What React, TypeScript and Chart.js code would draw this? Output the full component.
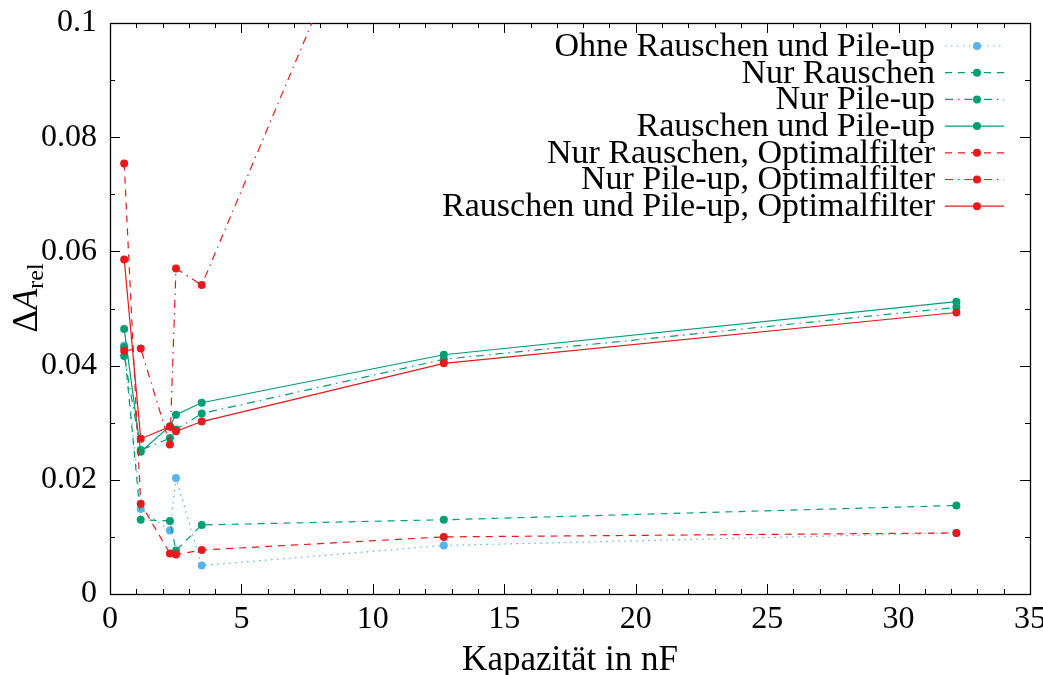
import React, { useEffect, useRef } from 'react';
import { Chart, registerables } from 'chart.js';

Chart.register(...registerables);

// ---- data ----
const capacitance = [0.54, 1.17, 2.28, 2.51, 3.49, 12.7, 32.2];
const ohneRauschenPileup = [0.0435, 0.0149, 0.0111, 0.0203, 0.0050, 0.0085, 0.0107];
const nurRauschen = [0.0432, 0.0130, 0.0128, 0.0076, 0.0121, 0.0130, 0.0155];
const nurPileup = [0.0417, 0.0252, 0.0273, 0.0288, 0.0316, 0.0411, 0.0502];
const rauschenPileup = [0.0464, 0.0249, 0.0294, 0.0314, 0.0335, 0.0419, 0.0512];
const nurRauschenOF = [0.0754, 0.0158, 0.0071, 0.0069, 0.0077, 0.0100, 0.0107];
const nurPileupOF = [0.0426, 0.0430, 0.0262, 0.0570, 0.0541, 0.155, null];
const rauschenPileupOF = [0.0586, 0.0272, 0.0293, 0.0285, 0.0302, 0.0404, 0.0493];

const seriesLabels = [
  'Ohne Rauschen und Pile-up',
  'Nur Rauschen',
  'Nur Pile-up',
  'Rauschen und Pile-up',
  'Nur Rauschen, Optimalfilter',
  'Nur Pile-up, Optimalfilter',
  'Rauschen und Pile-up, Optimalfilter',
];
const seriesValues = [
  ohneRauschenPileup,
  nurRauschen,
  nurPileup,
  rauschenPileup,
  nurRauschenOF,
  nurPileupOF,
  rauschenPileupOF,
];

const xMin = 0;
const xMax = 35;
const xStep = 5;
const yMin = 0;
const yMax = 0.1;
const yStep = 0.02;
const xTitle = 'Kapazität in nF';

// ---- styles ----
const BLUE = '#56b4e9';
const GREEN = '#009e73';
const RED = '#e41a1c';
const DOTTED = [1.5, 4.5];
const DASHED = [7, 6];
const DASHDOT = [8, 5, 1.5, 5];
const SOLID: number[] = [];
const seriesStyles = [
  { color: BLUE, dash: DOTTED },
  { color: GREEN, dash: DASHED },
  { color: GREEN, dash: DASHDOT },
  { color: GREEN, dash: SOLID },
  { color: RED, dash: DASHED },
  { color: RED, dash: DASHDOT },
  { color: RED, dash: SOLID },
];

const FONT = '"Liberation Serif", serif';
const FS = 32;
const FS_LEGEND = 34;
const FS_TITLE = 35;

const framePlugin = {
  id: 'gnuFrame',
  beforeDatasetsDraw(chart: any) {
    const { ctx, chartArea: a } = chart;
    const x = chart.scales.x;
    const y = chart.scales.y;
    ctx.save();
    ctx.strokeStyle = '#000';
    ctx.lineWidth = 1;
    ctx.beginPath();
    const nx = Math.round((xMax - xMin) / 1);
    for (let i = 0; i <= nx; i++) {
      const v = xMin + i;
      const px = Math.round(x.getPixelForValue(v)) + 0.5;
      const len = i % 5 === 0 ? 10 : 5;
      ctx.moveTo(px, a.bottom);
      ctx.lineTo(px, a.bottom - len);
      ctx.moveTo(px, a.top);
      ctx.lineTo(px, a.top + len);
    }
    const ny = Math.round((yMax - yMin) / 0.01);
    for (let i = 0; i <= ny; i++) {
      const v = yMin + i * 0.01;
      const py = Math.round(y.getPixelForValue(v)) + 0.5;
      const len = i % 2 === 0 ? 10 : 5;
      ctx.moveTo(a.left, py);
      ctx.lineTo(a.left + len, py);
      ctx.moveTo(a.right, py);
      ctx.lineTo(a.right - len, py);
    }
    ctx.stroke();
    ctx.lineWidth = 1.3;
    ctx.strokeRect(Math.round(a.left) + 0.5, Math.round(a.top) + 0.5, Math.round(a.width), Math.round(a.height));
    ctx.restore();
  },
  afterDraw(chart: any) {
    const { ctx, chartArea: a } = chart;
    ctx.save();
    ctx.fillStyle = '#000';
    // x title
    ctx.font = `${FS_TITLE}px ${FONT}`;
    ctx.textAlign = 'center';
    ctx.textBaseline = 'middle';
    ctx.fillText(xTitle, (a.left + a.right) / 2, 661);
    // y title: ΔA_rel rotated
    ctx.translate(37, 298);
    ctx.rotate(-Math.PI / 2);
    ctx.textAlign = 'left';
    ctx.textBaseline = 'alphabetic';
    const fMain = `${FS_TITLE}px ${FONT}`;
    const fIt = `italic ${FS_TITLE}px ${FONT}`;
    const fSub = `${Math.round(FS_TITLE * 0.68)}px ${FONT}`;
    ctx.font = fMain;
    const wD = ctx.measureText('Δ').width;
    ctx.font = fIt;
    const wA = ctx.measureText('A').width;
    ctx.font = fSub;
    const wR = ctx.measureText('rel').width;
    let cx = -(wD + wA + wR) / 2;
    ctx.font = fMain;
    ctx.fillText('Δ', cx, 0);
    cx += wD;
    ctx.font = fIt;
    ctx.fillText('A', cx, 0);
    cx += wA;
    ctx.font = fSub;
    ctx.fillText('rel', cx, 6);
    ctx.restore();

    // legend
    ctx.save();
    ctx.font = `${FS_LEGEND}px ${FONT}`;
    ctx.textAlign = 'right';
    ctx.textBaseline = 'middle';
    seriesLabels.forEach((label, i) => {
      const rowY = 46 + i * 26.7;
      ctx.fillStyle = '#000';
      ctx.fillText(label, 935, rowY + 1);
      const st = seriesStyles[i];
      ctx.strokeStyle = st.color;
      ctx.lineWidth = 1.2;
      ctx.setLineDash(st.dash);
      ctx.beginPath();
      ctx.moveTo(945, rowY);
      ctx.lineTo(1004, rowY);
      ctx.stroke();
      ctx.setLineDash([]);
      ctx.fillStyle = st.color;
      ctx.beginPath();
      ctx.arc(977, rowY, 4, 0, Math.PI * 2);
      ctx.fill();
    });
    ctx.restore();
  },
};

export default function App() {
  const ref = useRef<HTMLCanvasElement | null>(null);
  useEffect(() => {
    if (!ref.current) return;
    const datasets = seriesValues.map((vals, i) => ({
      label: seriesLabels[i],
      data: capacitance.map((c, j) => ({ x: c, y: vals[j] })),
      borderColor: seriesStyles[i].color,
      backgroundColor: seriesStyles[i].color,
      borderDash: seriesStyles[i].dash,
      borderWidth: 1.2,
      pointRadius: 4,
      pointBorderWidth: 0,
      pointBackgroundColor: seriesStyles[i].color,
      tension: 0,
      spanGaps: false,
      order: seriesValues.length - i,
    }));
    const chart = new Chart(ref.current, {
      type: 'line',
      data: { datasets },
      plugins: [framePlugin],
      options: {
        animation: false,
        responsive: false,
        devicePixelRatio: 1,
        layout: { padding: { top: 23, right: 13, left: 0, bottom: 0 } },
        plugins: { legend: { display: false }, tooltip: { enabled: false } },
        scales: {
          x: {
            type: 'linear',
            min: xMin,
            max: xMax,
            ticks: {
              stepSize: xStep,
              color: '#000',
              font: { family: FONT, size: FS },
              padding: 6,
              maxRotation: 0,
            },
            grid: { display: false, drawTicks: false },
            border: { display: false },
            afterFit: (s: any) => {
              s.height = 81;
              s.paddingLeft = 0;
              s.paddingRight = 0;
            },
          },
          y: {
            type: 'linear',
            min: yMin,
            max: yMax,
            ticks: {
              stepSize: yStep,
              color: '#000',
              font: { family: FONT, size: FS },
              padding: 13,
              callback: (v: any) => String(Number(Number(v).toFixed(2))),
            },
            grid: { display: false, drawTicks: false },
            border: { display: false },
            afterFit: (s: any) => {
              s.width = 110;
              s.paddingTop = 0;
              s.paddingBottom = 0;
            },
          },
        },
      },
    });
    return () => chart.destroy();
  }, []);
  return (
    <div style={{ position: 'absolute', left: 0, top: 0, width: 1043, height: 675, background: '#fff' }}>
      <canvas ref={ref} width={1043} height={675} style={{ display: 'block' }} />
    </div>
  );
}
